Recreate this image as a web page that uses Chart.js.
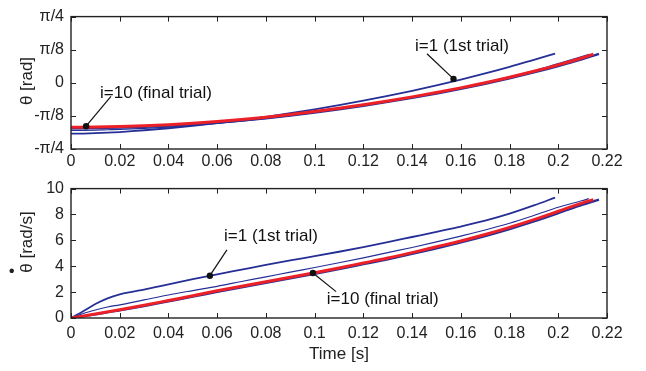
<!DOCTYPE html>
<html>
<head>
<meta charset="utf-8">
<script src="https://cdn.jsdelivr.net/npm/chart.js@4.4.1/dist/chart.umd.min.js"></script>
<style>
  html, body { margin: 0; padding: 0; background: #fff; }
  #wrap { position: relative; width: 646px; height: 371px; }
  #angleWrap { position: absolute; left: 0; top: 0; width: 646px; height: 172px; }
  #velWrap { position: absolute; left: 0; top: 172px; width: 646px; height: 199px; }
</style>
</head>
<body>
<div id="wrap">
  <div id="angleWrap"><canvas id="angleChart" width="646" height="172"></canvas></div>
  <div id="velWrap"><canvas id="velChart" width="646" height="199"></canvas></div>
</div>
<script>
// time samples [s] for each trial
const timeFirst = [0, 0.005, 0.01, 0.015, 0.02, 0.025, 0.03, 0.04, 0.05, 0.06, 0.07, 0.08, 0.09, 0.10,
  0.11, 0.12, 0.13, 0.14, 0.15, 0.16, 0.17, 0.18, 0.19, 0.1987];
const timeSecond = [0, 0.005, 0.01, 0.015, 0.02, 0.03, 0.04, 0.05, 0.06, 0.07, 0.08, 0.09, 0.10, 0.11,
  0.12, 0.13, 0.14, 0.15, 0.16, 0.17, 0.18, 0.19, 0.20, 0.21, 0.2125];
const timeNinth = [0, 0.01, 0.02, 0.03, 0.04, 0.05, 0.06, 0.07, 0.08, 0.09, 0.10, 0.11, 0.12, 0.13,
  0.14, 0.15, 0.16, 0.17, 0.18, 0.19, 0.20, 0.21, 0.2167];
const timeFinal = [0, 0.01, 0.02, 0.03, 0.04, 0.05, 0.06, 0.07, 0.08, 0.09, 0.10, 0.11, 0.12, 0.13,
  0.14, 0.15, 0.16, 0.17, 0.18, 0.19, 0.20, 0.21, 0.2144];

// joint angle [rad]
const angleFirst = [-0.604, -0.602, -0.598, -0.592, -0.584, -0.574, -0.563, -0.539, -0.511, -0.479, -0.443,
  -0.404, -0.361, -0.315, -0.265, -0.212, -0.155, -0.095, -0.030, 0.038, 0.111, 0.189, 0.273, 0.346];
const angleSecond = [-0.565, -0.564, -0.561, -0.557, -0.553, -0.541, -0.525, -0.505, -0.481, -0.454, -0.423,
  -0.389, -0.352, -0.311, -0.268, -0.221, -0.170, -0.116, -0.058, 0.004, 0.071, 0.143, 0.228, 0.315, 0.338];
const angleNinth = [-0.540, -0.537, -0.531, -0.522, -0.509, -0.492, -0.472, -0.448, -0.420, -0.388, -0.353,
  -0.314, -0.272, -0.227, -0.179, -0.127, -0.072, -0.012, 0.053, 0.123, 0.199, 0.282, 0.344];
const angleFinal = [-0.527, -0.524, -0.519, -0.510, -0.497, -0.480, -0.460, -0.436, -0.408, -0.376, -0.341,
  -0.302, -0.260, -0.215, -0.167, -0.115, -0.060, 0.000, 0.066, 0.137, 0.213, 0.297, 0.340];

// joint angular velocity [rad/s]
const velFirst = [0, 0.52, 1.08, 1.52, 1.82, 2.02, 2.20, 2.60, 3.00, 3.38, 3.74, 4.10, 4.45, 4.78,
  5.12, 5.48, 5.86, 6.26, 6.66, 7.07, 7.52, 8.06, 8.70, 9.30];
const velSecond = [0, 0.35, 0.62, 0.85, 1.02, 1.40, 1.78, 2.12, 2.45, 2.82, 3.18, 3.55, 3.90, 4.27,
  4.65, 5.05, 5.45, 5.88, 6.33, 6.80, 7.32, 7.92, 8.56, 9.08, 9.22];
const velNinth = [0, 0.28, 0.60, 0.93, 1.29, 1.65, 2.02, 2.38, 2.72, 3.07, 3.42, 3.78, 4.16, 4.54,
  4.95, 5.39, 5.84, 6.33, 6.87, 7.46, 8.10, 8.76, 9.15];
const velFinal = [0, 0.31, 0.64, 0.98, 1.35, 1.72, 2.10, 2.46, 2.80, 3.15, 3.50, 3.87, 4.25, 4.63,
  5.05, 5.50, 5.95, 6.45, 7.00, 7.60, 8.25, 8.90, 9.15];

// ticks
const timeTicks = [0, 0.02, 0.04, 0.06, 0.08, 0.1, 0.12, 0.14, 0.16, 0.18, 0.2, 0.22];
const angleTickValues = [-Math.PI / 4, -Math.PI / 8, 0, Math.PI / 8, Math.PI / 4];
const angleTickLabels = ['-\u03c0/4', '-\u03c0/8', '0', '\u03c0/8', '\u03c0/4'];
const velTicks = [0, 2, 4, 6, 8, 10];

// callouts: text, point on curve, end of leader, text anchor (data units)
const angleNotes = [
  { text: 'i=10 (final trial)', px: 0.0062, py: -0.515, ex: 0.0164, ey: -0.16, tx: 0.0119, ty: -0.126 },
  { text: 'i=1 (1st trial)', px: 0.157, py: 0.046, ex: 0.1461, ey: 0.344, tx: 0.1412, ty: 0.436 }
];
const velNotes = [
  { text: 'i=1 (1st trial)', px: 0.057, py: 3.27, ex: 0.064, ey: 5.26, tx: 0.0628, ty: 6.28 },
  { text: 'i=10 (final trial)', px: 0.0993, py: 3.48, ex: 0.1088, ey: 2.04, tx: 0.105, ty: 1.46 }
];

const BLUE = '#262f96';
const RED = '#ec2127';
const INK = '#222';
const FONT = "'Liberation Sans', Arial, sans-serif";

function pairs(xs, ys) {
  return xs.map((x, i) => ({ x: x, y: ys[i] }));
}

function line(data, color, width, order) {
  return {
    data: data,
    borderColor: color,
    borderWidth: width,
    pointRadius: 0,
    showLine: true,
    fill: false,
    cubicInterpolationMode: 'monotone',
    order: order
  };
}

// matlab style box with ticks pointing inwards
const boxPlugin = {
  id: 'box',
  afterDatasetsDraw(chart) {
    const { ctx, chartArea: a, scales } = chart;
    ctx.save();
    ctx.strokeStyle = INK;
    ctx.lineWidth = 1;
    scales.x.ticks.forEach(t => {
      const px = Math.round(scales.x.getPixelForValue(t.value)) + 0.5;
      ctx.beginPath();
      ctx.moveTo(px, a.bottom); ctx.lineTo(px, a.bottom - 5);
      ctx.moveTo(px, a.top); ctx.lineTo(px, a.top + 5);
      ctx.stroke();
    });
    scales.y.ticks.forEach(t => {
      const py = Math.round(scales.y.getPixelForValue(t.value)) + 0.5;
      ctx.beginPath();
      ctx.moveTo(a.left, py); ctx.lineTo(a.left + 5, py);
      ctx.moveTo(a.right, py); ctx.lineTo(a.right - 5, py);
      ctx.stroke();
    });
    ctx.lineWidth = 1.4;
    ctx.strokeRect(a.left, a.top, a.right - a.left, a.bottom - a.top);
    ctx.restore();
  }
};

// leader lines with dots, labels and the rotated y title
function notePlugin(notes, yTitle, titleY, withDot) {
  return {
    id: 'notes',
    afterDraw(chart) {
      const { ctx, scales } = chart;
      const sx = scales.x, sy = scales.y;
      ctx.save();
      ctx.setLineDash([]);
      ctx.strokeStyle = '#111';
      ctx.fillStyle = '#111';
      ctx.lineWidth = 1.2;
      notes.forEach(n => {
        const x0 = sx.getPixelForValue(n.px), y0 = sy.getPixelForValue(n.py);
        const x1 = sx.getPixelForValue(n.ex), y1 = sy.getPixelForValue(n.ey);
        ctx.beginPath();
        ctx.moveTo(x0, y0);
        ctx.lineTo(x1, y1);
        ctx.stroke();
        ctx.beginPath();
        ctx.arc(x0, y0, 3.2, 0, Math.PI * 2);
        ctx.fill();
      });
      ctx.font = '17px ' + FONT;
      ctx.textBaseline = 'middle';
      ctx.textAlign = 'left';
      notes.forEach(n => {
        ctx.fillText(n.text, sx.getPixelForValue(n.tx), sy.getPixelForValue(n.ty));
      });
      // y title, rotated
      ctx.fillStyle = INK;
      ctx.translate(27, titleY);
      ctx.rotate(-Math.PI / 2);
      ctx.textAlign = 'center';
      ctx.fillText(yTitle, 0, 0);
      if (withDot) {
        const w = ctx.measureText(yTitle).width;
        ctx.fillText('\u2022', -w / 2 + 2, -15);
      }
      ctx.restore();
    }
  };
}

function timeAxis(labelPad, axisHeight, showTitle) {
  return {
    type: 'linear',
    min: 0,
    max: 0.22,
    grid: { display: false, drawTicks: false },
    border: { display: false },
    afterBuildTicks: s => { s.ticks = timeTicks.map(v => ({ value: v })); },
    afterFit: s => { s.height = axisHeight; },
    ticks: {
      padding: labelPad,
      maxRotation: 0,
      autoSkip: false,
      color: INK,
      font: { size: 16, family: FONT },
      callback: v => String(Number(v.toFixed(2)))
    },
    title: {
      display: showTitle,
      text: 'Time [s]',
      color: INK,
      font: { size: 17, family: FONT },
      padding: { top: 0, bottom: 6 }
    }
  };
}

function valueAxis(min, max, values, labels) {
  return {
    type: 'linear',
    min: min,
    max: max,
    grid: { display: false, drawTicks: false },
    border: { display: false },
    afterBuildTicks: s => { s.ticks = values.map(v => ({ value: v })); },
    afterFit: s => { s.width = 71; },
    ticks: {
      padding: 7,
      autoSkip: false,
      color: INK,
      font: { size: 16, family: FONT },
      callback: (v, i) => labels[i]
    }
  };
}

function makeChart(canvasId, sets, yAxis, xAxis, padding, plugin) {
  return new Chart(document.getElementById(canvasId).getContext('2d'), {
    type: 'scatter',
    data: { datasets: sets },
    options: {
      responsive: false,
      animation: false,
      events: [],
      layout: { padding: padding },
      scales: { x: xAxis, y: yAxis },
      plugins: {
        legend: { display: false },
        tooltip: { enabled: false }
      }
    },
    plugins: [boxPlugin, plugin]
  });
}

makeChart('angleChart', [
  line(pairs(timeFirst, angleFirst), BLUE, 1.8, 3),
  line(pairs(timeSecond, angleSecond), BLUE, 1.2, 2),
  line(pairs(timeNinth, angleNinth), BLUE, 2.4, 1),
  line(pairs(timeFinal, angleFinal), RED, 3, 0)
], valueAxis(-Math.PI / 4, Math.PI / 4, angleTickValues, angleTickLabels),
  timeAxis(3, 23, false), { top: 12, right: 39, left: 0, bottom: 0 },
  notePlugin(angleNotes, '\u03b8 [rad]', 81, false));

makeChart('velChart', [
  line(pairs(timeFirst, velFirst), BLUE, 1.8, 3),
  line(pairs(timeSecond, velSecond), BLUE, 1.2, 2),
  line(pairs(timeNinth, velNinth), BLUE, 2.4, 1),
  line(pairs(timeFinal, velFinal), RED, 3, 0)
], valueAxis(0, 10, velTicks, velTicks.map(String)),
  timeAxis(6, 53, true), { top: 9, right: 39, left: 0, bottom: 0 },
  notePlugin(velNotes, '\u03b8 [rad/s]', 70, true));
</script>
</body>
</html>
